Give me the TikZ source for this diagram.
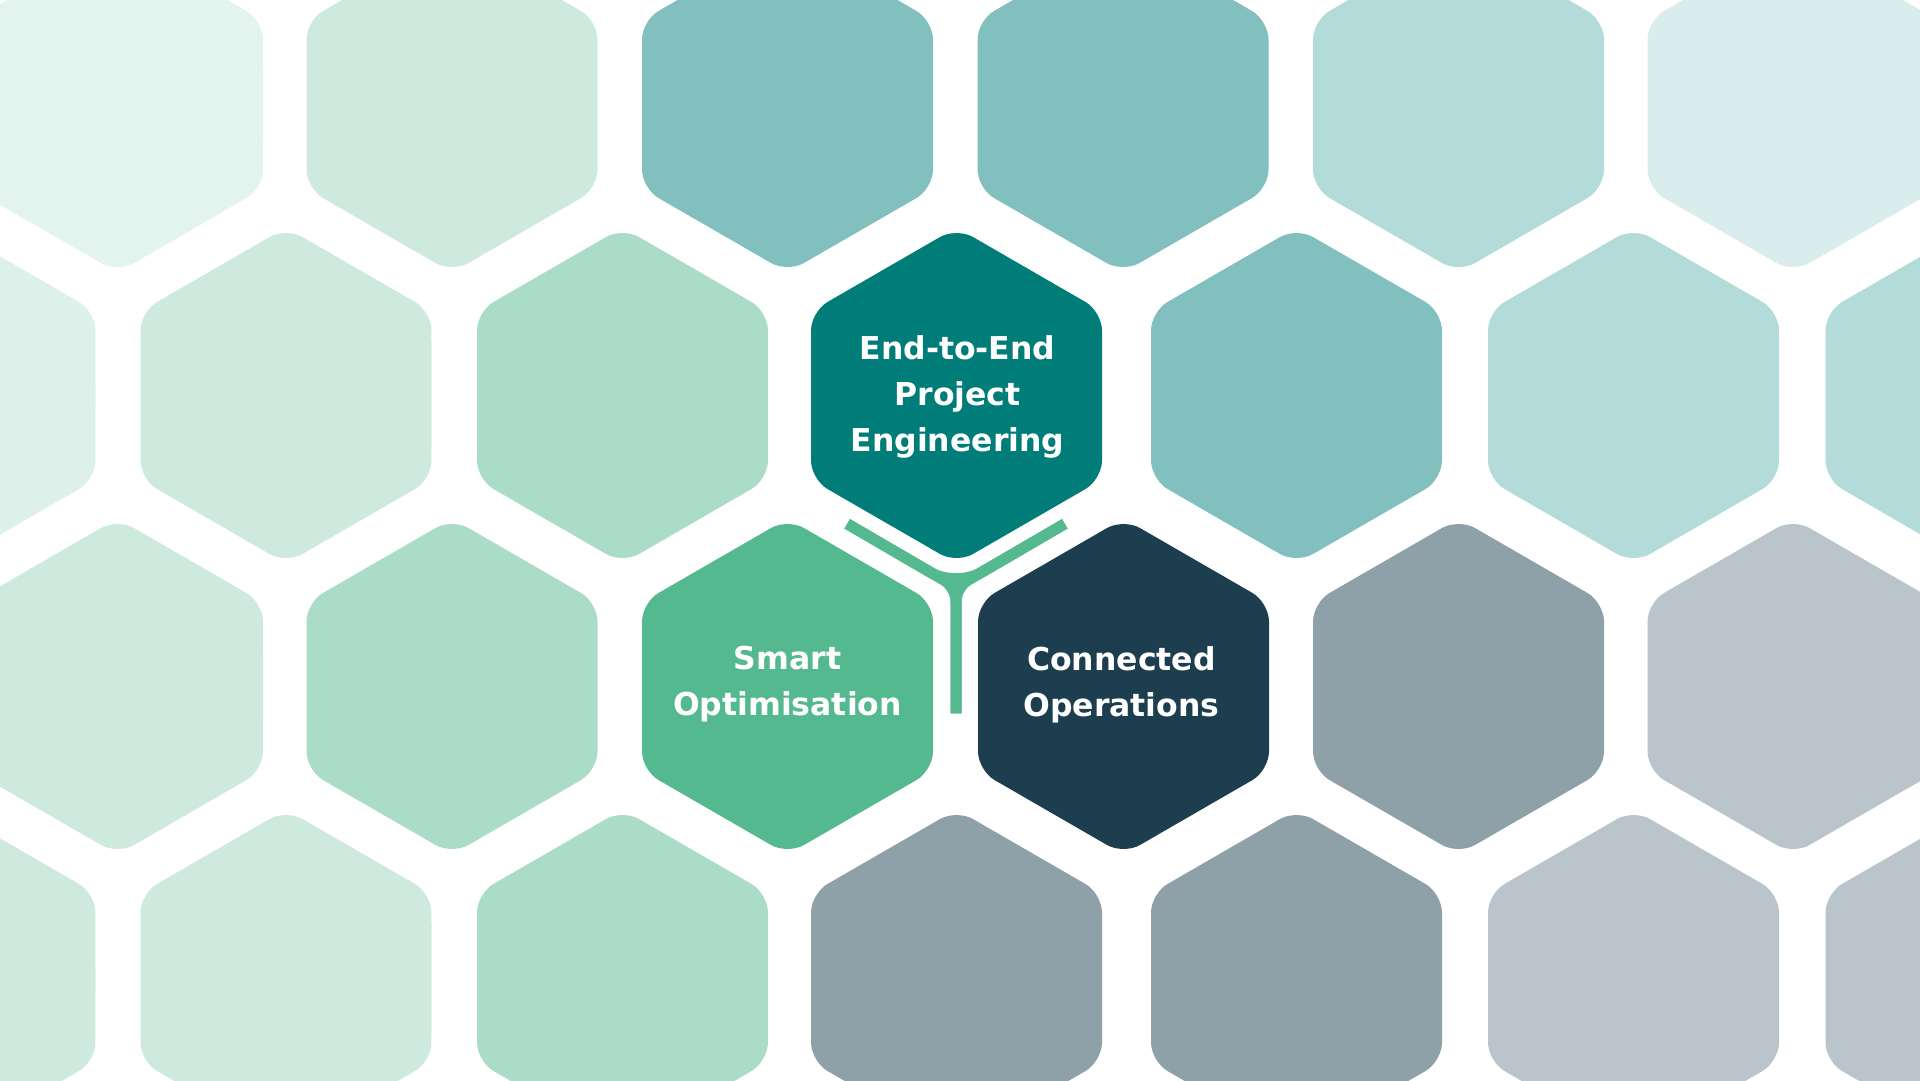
\documentclass[tikz,border=0pt]{standalone}
\usepackage{fontspec}
\setmainfont{DejaVu Sans}
\definecolor{mintA}{HTML}{E3F3EE}
\definecolor{mintB}{HTML}{DDF0E9}
\definecolor{mintC}{HTML}{CEEADF}
\definecolor{mintD}{HTML}{ABDCC7}
\definecolor{smartgreen}{HTML}{55B990}
\definecolor{darkteal}{HTML}{007D79}
\definecolor{tealA}{HTML}{82BFBF}
\definecolor{tealB}{HTML}{B3DBDA}
\definecolor{tealC}{HTML}{D9EDEC}
\definecolor{navy}{HTML}{1D3E4F}
\definecolor{greyA}{HTML}{8EA1A8}
\definecolor{greyB}{HTML}{BAC5CB}
\tikzset{
  hexcellstyle/.style={rounded corners=19pt},
  lbl/.style={text=white, align=center, inner sep=0pt,
    font=\bfseries\fontsize{31.5}{46}\selectfont},
  ylink/.style={draw=smartgreen, line width=11pt}
}
\newcommand\hexcell[3]{%
  \fill[hexcellstyle, #3] (#1,#2) +(0:145.5) -- +(30:168) -- +(90:168) -- +(150:168)
    -- +(210:168) -- +(270:168) -- +(330:168) -- cycle;}
\begin{document}
\begin{tikzpicture}[x=1pt,y=-1pt]
\useasboundingbox (0,0) rectangle (1920,1080);
\fill[white] (0,0) rectangle (1920,1080);
\clip (0,0) rectangle (1920,1080);
% row 0
\foreach \cx/\cc in {117.5/mintA,452/mintC,787.5/tealA,1123/tealA,1458.5/tealB,1793/tealC}
  {\hexcell{\cx}{104.5}{\cc}}
% row 1
\foreach \cx/\cc in {-50/mintB,286/mintC,622.5/mintD,956.5/darkteal,1296.5/tealA,1633.5/tealB,1971/tealB}
  {\hexcell{\cx}{395.5}{\cc}}
% row 2
\foreach \cx/\cc in {117.5/mintC,452/mintD,787.5/smartgreen,1123.5/navy,1458.5/greyA,1793/greyB}
  {\hexcell{\cx}{686.5}{\cc}}
% row 3
\foreach \cx/\cc in {-50/mintC,286/mintC,622.5/mintD,956.5/greyA,1296.5/greyA,1633.5/greyB,1971/greyB}
  {\hexcell{\cx}{977.5}{\cc}}
% labels
\node[lbl] (e2e) at (957.5,396.5) {End-to-End\\Project\\Engineering};
\node[lbl] (smart) at (787.5,684.5) {Smart\\Optimisation};
\node[lbl] (conn) at (1121.5,684.5) {Connected\\Operations};
% Y connector
\coordinate (yl) at (847.2,523.8);
\coordinate (yr) at (1064.8,523.8);
\coordinate (yj) at (956,587.2);
\coordinate (yb) at (956,713.3);
\draw[ylink, rounded corners=29pt] (yl) -- (yj) -- (yr);
\draw[ylink, rounded corners=14pt] (yl) -- (yj) -- (yb);
\draw[ylink, rounded corners=14pt] (yr) -- (yj) -- (yb);
\end{tikzpicture}
\end{document}
